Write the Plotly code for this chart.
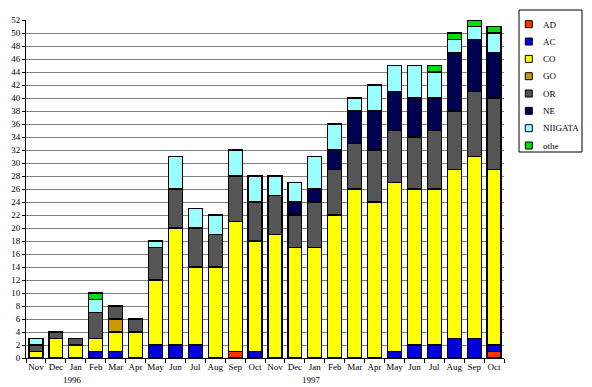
import plotly.graph_objects as go

months = ["Nov", "Dec", "Jan", "Feb", "Mar", "Apr", "May", "Jun", "Jul", "Aug", "Sep", "Oct",
          "Nov", "Dec", "Jan", "Feb", "Mar", "Apr", "May", "Jun", "Jul", "Aug", "Sep", "Oct"]
years = ["1996", "1997"]
year_pos = [1.85, 13.85]

AD      = [0, 0, 0, 0, 0, 0, 0, 0, 0, 0, 1, 0,   0, 0, 0, 0, 0, 0, 0, 0, 0, 0, 0, 1]
AC      = [0, 0, 0, 1, 1, 0, 2, 2, 2, 0, 0, 1,   0, 0, 0, 0, 0, 0, 1, 2, 2, 3, 3, 1]
CO      = [1, 3, 2, 2, 3, 4, 10, 18, 12, 14, 20, 17,   19, 17, 17, 22, 26, 24, 26, 24, 24, 26, 28, 27]
GO      = [0, 0, 0, 0, 2, 0, 0, 0, 0, 0, 0, 0,   0, 0, 0, 0, 0, 0, 0, 0, 0, 0, 0, 0]
OR      = [1, 1, 1, 4, 2, 2, 5, 6, 6, 5, 7, 6,   6, 5, 7, 7, 7, 8, 8, 8, 9, 9, 10, 11]
NE      = [0, 0, 0, 0, 0, 0, 0, 0, 0, 0, 0, 0,   0, 2, 2, 3, 5, 6, 6, 6, 5, 9, 8, 7]
NIIGATA = [1, 0, 0, 2, 0, 0, 1, 5, 3, 3, 4, 4,   3, 3, 5, 4, 2, 4, 4, 5, 4, 2, 2, 3]
othe    = [0, 0, 0, 1, 0, 0, 0, 0, 0, 0, 0, 0,   0, 0, 0, 0, 0, 0, 0, 0, 1, 1, 1, 1]

series = [("AD", AD, "#ff3300"), ("AC", AC, "#0000dd"), ("CO", CO, "#ffff00"),
          ("GO", GO, "#cc9900"), ("OR", OR, "#555555"), ("NE", NE, "#000050"),
          ("NIIGATA", NIIGATA, "#99ffff"), ("othe", othe, "#00dd00")]

W, H = 584, 379
ML, MR, MT, MB = 18, 88, 12, 29
PW, PH = W - ML - MR, H - MT - MB


def px2x(px):
    return (px - ML) / PW


def px2y(py):
    return 1 - (py - MT) / PH


x = list(range(len(months)))
fig = go.Figure()
for name, vals, col in series:
    fig.add_trace(go.Bar(x=x, y=vals, name=name, width=0.7, showlegend=False,
                         marker=dict(color=col, line=dict(color="black", width=1.2))))

font = dict(family="Liberation Serif, Times New Roman, serif", size=9, color="black")
fig.update_layout(
    barmode="stack", width=W, height=H,
    margin=dict(l=ML, r=MR, t=MT, b=MB, autoexpand=False),
    paper_bgcolor="white", plot_bgcolor="white",
    font=font, showlegend=False,
    xaxis=dict(range=[-0.5, 23.5], tickmode="array", tickvals=x, ticktext=months,
               tickangle=0, ticks="", showline=True, linecolor="black", linewidth=1,
               showgrid=False, zeroline=False, automargin=False,
               minor=dict(tickmode="array", tickvals=[i - 0.5 for i in range(25)],
                          ticks="outside", ticklen=4, tickcolor="black", showgrid=False)),
    yaxis=dict(range=[0, 52], dtick=2, tick0=0, ticks="outside", ticklen=3, tickcolor="black",
               showline=True, linecolor="black", linewidth=1, automargin=False,
               showgrid=True, gridcolor="#808080", gridwidth=1, zeroline=False),
)
for yr, pos in zip(years, year_pos):
    fig.add_annotation(x=pos, y=0, xref="x", yref="paper", yshift=-22, text=yr,
                       showarrow=False, font=font, xanchor="center", yanchor="middle")

# legend box drawn in the right margin
fig.add_shape(type="rect", xref="paper", yref="paper",
              x0=px2x(511), x1=px2x(574), y0=px2y(144), y1=px2y(2),
              line=dict(color="black", width=1), fillcolor="white", layer="above")
step = 17.33
for i, (name, vals, col) in enumerate(series):
    top = 12.7 + step * i
    fig.add_shape(type="rect", xref="paper", yref="paper",
                  x0=px2x(517.3), x1=px2x(524.3), y0=px2y(top + 7), y1=px2y(top),
                  line=dict(color="black", width=1), fillcolor=col, layer="above")
    fig.add_annotation(x=px2x(532.5), y=px2y(top + 3.8), xref="paper", yref="paper",
                       text=name, showarrow=False, font=font,
                       xanchor="left", yanchor="middle")
fig.write_html("out.html")
